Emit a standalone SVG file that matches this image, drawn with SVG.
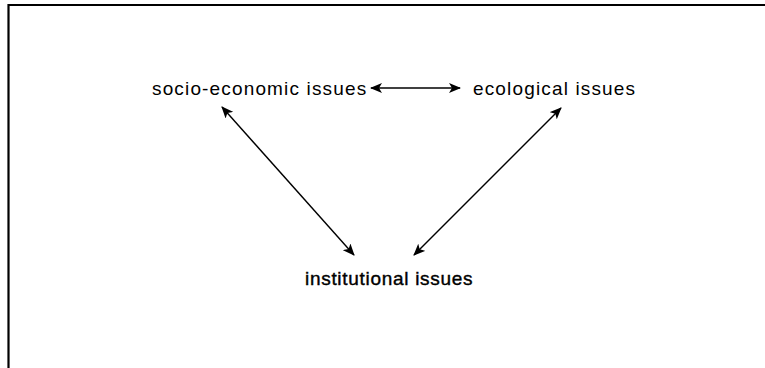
<svg xmlns="http://www.w3.org/2000/svg" width="765" height="368" viewBox="0 0 765 368">
<style>
  .lbl { font-family: "Liberation Sans", Arial, sans-serif; font-size: 19px; letter-spacing: 1.15px; fill: #000; }
  .bold { stroke: #000; stroke-width: 0.4px; letter-spacing: 0.7px; }
  .conn { stroke: #000; stroke-width: 1.4; fill: none; marker-start: url(#head); marker-end: url(#head); }
  .frame { stroke: #000; stroke-width: 2.2; fill: none; }
</style>
<defs>
  <marker id="head" viewBox="0 0 12 10" refX="11" refY="5" markerWidth="12" markerHeight="10" markerUnits="userSpaceOnUse" orient="auto-start-reverse">
    <path d="M0,0 L12,5 L0,10 L3,5 Z" fill="#000"/>
  </marker>
</defs>
<rect width="765" height="368" fill="#fff"/>
<path class="frame" d="M8.5,368 L8.5,5 L765,5"/>
<g id="socio-economic">
  <text class="lbl" x="152" y="95">socio-economic issues</text>
</g>
<g id="ecological">
  <text class="lbl" x="473" y="95">ecological issues</text>
</g>
<g id="institutional">
  <text class="lbl bold" x="305" y="285">institutional issues</text>
</g>
<g id="connectors">
  <line class="conn" x1="371" y1="88" x2="460" y2="88"/>
  <line class="conn" x1="222" y1="107" x2="354" y2="255"/>
  <line class="conn" x1="561" y1="108" x2="414" y2="255"/>
</g>
</svg>
